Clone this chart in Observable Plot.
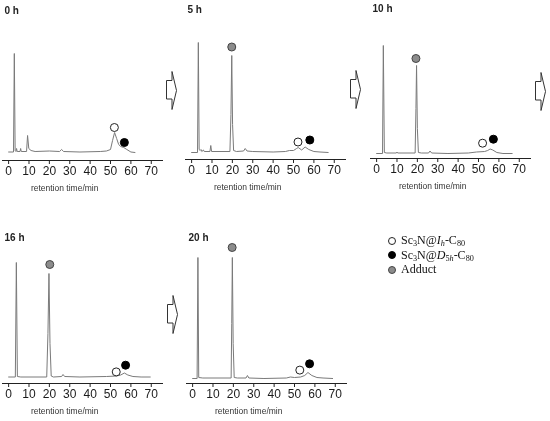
<!DOCTYPE html>
<html>
<head>
<meta charset="utf-8">
<script src="https://cdn.jsdelivr.net/npm/d3@7"></script>
<script src="https://cdn.jsdelivr.net/npm/@observablehq/plot@0.6"></script>
<style>
  html, body { margin: 0; padding: 0; background: #fff; }
  #root { position: relative; width: 550px; height: 421px; overflow: hidden; background: #fff; }
  .panel { position: absolute; will-change: transform; }
  .arrow { position: absolute; }
  #legend { position: absolute; left: 388px; top: 233px; font-family: "Liberation Serif", "Times New Roman", serif; font-size: 12px; color: #111; will-change: transform; background: #fff; }
  #legend .row { height: 14.5px; line-height: 14.5px; white-space: nowrap; color: #111; }
  #legend .sw { display: inline-block; width: 8px; height: 8px; border-radius: 50%; box-sizing: border-box; border: 1px solid #222; vertical-align: -0.5px; margin-right: 5px; }
  #legend sub { font-size: 0.68em; line-height: 0; vertical-align: -0.3em; color: #111; }
  #legend i { color: #111; }
</style>
</head>
<body>
<div id="root"></div>
<script>
// ---------------- data ----------------
const tickValues = [0, 10, 20, 30, 40, 50, 60, 70];
const xLabel = "retention time/min";
const panelTitles = ["0 h", "5 h", "10 h", "16 h", "20 h"];

// chromatogram traces: [retention time (min), detector signal (arb.)]
const trace0h = [[0,8.5],[2.4,8.5],[2.8,107],[3.2,10],[3.6,9],[3.9,12],[4.2,9],[5.6,9],[5.9,12],[6.2,9],[8.8,9],[9.3,25],[9.9,12],[11,10],[13,9],[20,9.5],[25,9],[26,11],[27,9],[35,8.5],[45,9],[48,9.5],[50,11],[51,20],[52,28],[53,22],[54,16],[55,14],[56.5,13],[58,11],[60,8.5],[62,8]];
const trace5h = [[0,7],[2.9,7],[3.3,117],[3.7,10],[4.2,9],[4.6,10],[5,8],[5.8,9.5],[6.2,8],[9,8],[9.4,14],[9.8,8],[18.8,8],[19.3,45],[19.7,104],[20.1,35],[20.6,9],[22,8],[25.5,8.5],[26.3,11],[27.2,8.5],[30,8],[40,7.5],[46,8],[48,9],[50,9],[51.5,11],[52.3,12],[54,9.5],[55.7,12.5],[57.5,10],[60,8],[63,7.5],[67,7]];
const trace10h = [[0,5],[2.9,5],[3.3,113],[3.8,6],[5,5.5],[9.7,5.5],[10,6.5],[10.3,5.5],[18.9,5.5],[19.3,50],[19.6,93],[20,30],[20.5,6],[22,5.5],[25.5,5.5],[26.2,7.5],[27,5.5],[35,5],[45,5.5],[49,6.5],[53,7],[54.5,8],[55.7,9.5],[57,8.5],[59,6],[62,5],[66.5,5]];
const trace16h = [[0,6.5],[3.3,6.5],[3.8,121],[4.3,7],[6,6.5],[18.7,6.5],[19.3,50],[19.8,110],[20.3,40],[20.9,7.5],[22,6.5],[26,7],[26.7,9],[27.5,7],[35,6.5],[48,7],[53,7.5],[55,8.5],[56.8,10.5],[58.5,8.5],[61,7],[65,6.5],[69.5,6.5]];
const trace20h = [[0,5],[2.2,5],[2.6,126],[3.0,6],[5,5.5],[18.9,5.5],[19.2,60],[19.5,126],[19.9,40],[20.4,6],[22,5.5],[26.2,5.5],[26.9,8],[27.6,5.5],[35,5],[46,5.5],[48,6.5],[50,6],[53,6.5],[55,8],[56.6,11],[58.5,8],[61,6],[64,5.5],[68.7,5]];

// peak markers: species, retention time, signal level
const markers0h  = [{kind:"Ih", t:51.9, h:33}, {kind:"D5h", t:56.8, h:18}];
const markers5h  = [{kind:"Adduct", t:19.7, h:112.5}, {kind:"Ih", t:52.2, h:17.5}, {kind:"D5h", t:58, h:19.5}];
const markers10h = [{kind:"Adduct", t:19.3, h:100}, {kind:"Ih", t:52, h:15.3}, {kind:"D5h", t:57.3, h:19.3}];
const markers16h = [{kind:"Adduct", t:20.2, h:119}, {kind:"Ih", t:52.8, h:11.6}, {kind:"D5h", t:57.4, h:18.3}];
const markers20h = [{kind:"Adduct", t:19.4, h:136}, {kind:"Ih", t:52.6, h:13.4}, {kind:"D5h", t:57.4, h:19.7}];

const legendKinds = ["Ih", "D5h", "Adduct"];
const legendLabels = [
  "Sc<sub>3</sub>N@<i>I</i><sub><i>h</i></sub>-C<sub>80</sub>",
  "Sc<sub>3</sub>N@<i>D</i><sub>5<i>h</i></sub>-C<sub>80</sub>",
  "Adduct"
];

// ---------------- styling / layout ----------------
const kindFill = {Ih: "#ffffff", D5h: "#000000", Adduct: "#8c8c8c"};
const kindStroke = {Ih: "#222222", D5h: "#000000", Adduct: "#444444"};
const panelLayout = [
  {left: -8,  top: 5},
  {left: 175, top: 4},
  {left: 360, top: 3},
  {left: -8,  top: 228},
  {left: 176, top: 228}
];
const arrowLayout = [
  {left: 166, top: 71},
  {left: 350, top: 70},
  {left: 535, top: 72},
  {left: 167, top: 295}
];
const xLabelAt = 27.5;

const traces = [trace0h, trace5h, trace10h, trace16h, trace20h];
const markers = [markers0h, markers5h, markers10h, markers16h, markers20h];

const root = document.getElementById("root");

function makePanel(i) {
  const chart = Plot.plot({
    width: 181,
    height: 195,
    marginLeft: 10,
    marginRight: 10,
    marginTop: 5,
    marginBottom: 40,
    x: {domain: [-3, 76]},
    y: {domain: [0, 150], axis: null},
    style: {fontFamily: "'Liberation Sans', Arial, sans-serif", color: "#222", background: "#fff"},
    marks: [
      Plot.ruleY([0], {stroke: "#222", strokeWidth: 1}),
      Plot.axisX({ticks: tickValues, tickSize: 4, tickPadding: 1.5, fontSize: 12, label: null, tickFormat: d => String(d), stroke: "#222", fill: "#1a1a1a"}),
      Plot.line(traces[i], {x: d => d[0], y: d => d[1], stroke: "#7a7a7a", strokeWidth: 1}),
      Plot.dot(markers[i], {x: "t", y: "h", r: 4, fill: d => kindFill[d.kind], stroke: d => kindStroke[d.kind], strokeWidth: 1}),
      Plot.text([panelTitles[i]], {frameAnchor: "top-left", lineAnchor: "middle", dx: 2, dy: i < 3 ? 0 : 4, fontSize: 10, fontWeight: "bold", fill: "#222"}),
      Plot.text([xLabel], {x: () => xLabelAt, frameAnchor: "bottom", dy: 30, fontSize: 8.5, fill: "#333"})
    ]
  });
  const wrap = document.createElement("div");
  wrap.className = "panel";
  wrap.style.left = panelLayout[i].left + "px";
  wrap.style.top = panelLayout[i].top + "px";
  wrap.appendChild(chart);
  root.appendChild(wrap);
}
for (let i = 0; i < traces.length; i++) makePanel(i);

// block arrows between time points
const arrowShape = "0.5,9.5 6,9.5 6,0.5 10.5,19.5 6,38.5 6,28 0.5,28";
for (const a of arrowLayout) {
  const ns = "http://www.w3.org/2000/svg";
  const svg = document.createElementNS(ns, "svg");
  svg.setAttribute("width", 12);
  svg.setAttribute("height", 40);
  svg.setAttribute("class", "arrow");
  svg.style.left = a.left + "px";
  svg.style.top = a.top + "px";
  const poly = document.createElementNS(ns, "polygon");
  poly.setAttribute("points", arrowShape);
  poly.setAttribute("fill", "#fff");
  poly.setAttribute("stroke", "#333");
  poly.setAttribute("stroke-width", "1");
  poly.setAttribute("stroke-linejoin", "miter");
  svg.appendChild(poly);
  root.appendChild(svg);
}

// legend
const legend = document.createElement("div");
legend.id = "legend";
legendKinds.forEach((k, j) => {
  const row = document.createElement("div");
  row.className = "row";
  const sw = document.createElement("span");
  sw.className = "sw";
  sw.style.background = kindFill[k];
  sw.style.borderColor = kindStroke[k];
  row.appendChild(sw);
  const lab = document.createElement("span");
  lab.innerHTML = legendLabels[j];
  row.appendChild(lab);
  legend.appendChild(row);
});
root.appendChild(legend);
</script>
</body>
</html>
